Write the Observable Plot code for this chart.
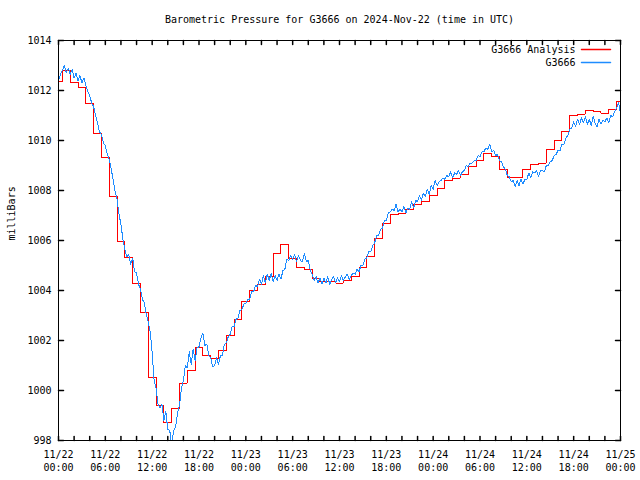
<!DOCTYPE html>
<html><head><meta charset="utf-8">
<script src="https://cdn.jsdelivr.net/npm/d3@7"></script>
<script src="https://cdn.jsdelivr.net/npm/@observablehq/plot@0.6"></script>
<style>body{margin:0;background:#fff}</style>
</head><body><div id="chart"></div>
<script>
const title = "Barometric Pressure for G3666 on 2024-Nov-22 (time in UTC)";
const yLabel = "milliBars";
const seriesNames = ["G3666 Analysis", "G3666"];
const seriesColors = ["#ff0000", "#1e8cff"];
const startTime = "2024-11-22T00:00Z";
const endTime = "2024-11-25T00:00Z";

// hourly analysis values (hour 0 .. 72)
const analysisHourly = [
  1012.37, 1012.80, 1012.34, 1012.13, 1011.48, 1010.29, 1009.34, 1007.76,
  1005.96, 1005.32, 1004.28, 1003.13, 1000.54, 999.41, 998.73, 999.28,
  1000.30, 1000.80, 1001.73, 1001.41, 1001.30, 1001.60, 1002.20, 1002.83,
  1003.57, 1004.00, 1004.24, 1004.56, 1005.50, 1005.84, 1005.28, 1004.93,
  1004.84, 1004.48, 1004.35, 1004.35, 1004.30, 1004.40, 1004.55, 1004.93,
  1005.36, 1006.08, 1006.68, 1007.04, 1007.10, 1007.25, 1007.45, 1007.57,
  1007.79, 1008.09, 1008.40, 1008.50, 1008.64, 1008.97, 1009.22, 1009.47,
  1009.36, 1008.84, 1008.53, 1008.53, 1008.84, 1009.04, 1009.10, 1009.64,
  1010.00, 1010.37, 1011.00, 1011.06, 1011.20, 1011.15, 1011.10, 1011.25,
  1011.55
];

// station observations, every 15 minutes (hour 0 .. 72)
const obsQuarterHourly = [
  1012.40, 1012.65, 1012.80, 1013.00,
  1012.70, 1012.90, 1012.65, 1012.85,
  1012.50, 1012.70, 1012.40, 1012.60,
  1012.30, 1012.50, 1012.20, 1011.95,
  1011.80, 1011.50, 1011.35, 1011.00,
  1010.70, 1010.35, 1010.25, 1009.90,
  1009.80, 1009.45, 1009.25, 1008.85,
  1008.45, 1007.95, 1007.65, 1007.05,
  1006.65, 1006.05, 1005.65, 1005.35,
  1005.45, 1005.05, 1005.30, 1004.75,
  1004.70, 1004.25, 1004.05, 1003.65,
  1003.50, 1003.05, 1002.75, 1002.35,
  1001.50, 1000.40, 1000.10, 999.45,
  999.30, 999.45, 998.80, 999.15,
  998.45, 998.40, 997.85, 998.40,
  998.55, 999.10, 999.40, 1000.10,
  1000.40, 1001.00, 1000.90, 1001.55,
  1001.05, 1001.65, 1001.20, 1001.70,
  1001.75, 1002.10, 1002.30, 1001.80,
  1001.85, 1001.40, 1001.30, 1000.95,
  1001.00, 1001.30, 1001.05, 1001.40,
  1001.40, 1001.85, 1001.90, 1002.15,
  1002.25, 1002.55, 1002.55, 1002.85,
  1002.90, 1003.20, 1003.25, 1003.45,
  1003.50, 1003.65, 1003.65, 1003.95,
  1003.95, 1004.20, 1004.15, 1004.45,
  1004.25, 1004.60, 1004.30, 1004.65,
  1004.40, 1004.70, 1004.35, 1004.60,
  1004.40, 1004.65, 1004.45, 1004.80,
  1004.85, 1005.25, 1005.20, 1005.40,
  1005.25, 1005.45, 1005.15, 1005.40,
  1005.20, 1005.15, 1005.50, 1005.15,
  1005.20, 1004.80, 1004.65, 1004.40,
  1004.55, 1004.30, 1004.50, 1004.25,
  1004.50, 1004.30, 1004.55, 1004.25,
  1004.45, 1004.55, 1004.30, 1004.50,
  1004.35, 1004.60, 1004.40, 1004.55,
  1004.65, 1004.45, 1004.60, 1004.70,
  1004.65, 1004.85, 1004.75, 1005.00,
  1005.00, 1005.25, 1005.30, 1005.55,
  1005.55, 1005.80, 1005.90, 1006.20,
  1006.20, 1006.45, 1006.50, 1006.80,
  1006.80, 1007.10, 1007.15, 1007.25,
  1007.20, 1007.45, 1007.15, 1007.25,
  1007.15, 1007.35, 1007.10, 1007.30,
  1007.25, 1007.55, 1007.30, 1007.60,
  1007.55, 1007.80, 1007.60, 1007.90,
  1007.75, 1008.05, 1007.85, 1008.20,
  1008.05, 1008.40, 1008.20, 1008.35,
  1008.40, 1008.50, 1008.45, 1008.60,
  1008.55, 1008.75, 1008.50, 1008.70,
  1008.65, 1008.80, 1008.60, 1008.75,
  1008.80, 1009.00, 1008.95, 1009.10,
  1009.10, 1009.20, 1009.20, 1009.40,
  1009.35, 1009.55, 1009.55, 1009.70,
  1009.65, 1009.85, 1009.55, 1009.60,
  1009.40, 1009.45, 1009.20, 1009.15,
  1008.95, 1008.85, 1008.60, 1008.55,
  1008.35, 1008.40, 1008.15, 1008.40,
  1008.20, 1008.45, 1008.25, 1008.45,
  1008.45, 1008.70, 1008.50, 1008.75,
  1008.70, 1008.80, 1008.55, 1008.80,
  1008.80, 1008.75, 1009.00, 1009.00,
  1009.15, 1009.20, 1009.40, 1009.45,
  1009.60, 1009.60, 1009.85, 1009.85,
  1010.10, 1010.20, 1010.45, 1010.50,
  1010.75, 1010.55, 1010.85, 1010.65,
  1010.90, 1010.70, 1010.95, 1010.65,
  1010.85, 1010.60, 1010.95, 1010.70,
  1010.55, 1010.85, 1010.65, 1010.80,
  1010.75, 1010.90, 1010.70, 1011.00,
  1010.95, 1011.15, 1011.30, 1011.50,
  1011.10
];

const yTicks = [998, 1000, 1002, 1004, 1006, 1008, 1010, 1012, 1014];
const xTickLabels = [
  "11/22\n00:00", "11/22\n06:00", "11/22\n12:00", "11/22\n18:00",
  "11/23\n00:00", "11/23\n06:00", "11/23\n12:00", "11/23\n18:00",
  "11/24\n00:00", "11/24\n06:00", "11/24\n12:00", "11/24\n18:00",
  "11/25\n00:00"
];

const HOUR = 3600e3;
const t0 = new Date(startTime);
const t1 = new Date(endTime);
const analysis = analysisHourly.map((v, i) => ({t: new Date(+t0 + i * HOUR), v}));
const obs = obsQuarterHourly.map((v, i) => ({t: new Date(+t0 + i * HOUR / 4), v}));
const labelTicks = xTickLabels.map((label, i) => ({t: new Date(+t0 + i * 6 * HOUR), label}));
const minorTicks = d3.utcHour.every(2).range(t0, new Date(+t1 + 1));

const tickShape = {draw(ctx, l) { ctx.moveTo(0, 0); ctx.lineTo(0, -l); }};
const TLX = 4, TLY = 5;

const chart = Plot.plot({
  width: 640,
  height: 480,
  marginTop: 40,
  marginBottom: 40,
  marginLeft: 58,
  marginRight: 20,
  style: {fontFamily: "'DejaVu Sans Mono', monospace", fontSize: "10px", background: "#fff", color: "#000"},
  x: {type: "utc", domain: [t0, t1]},
  y: {domain: [998, 1014]},
  marks: [
    Plot.axisY({ticks: yTicks, tickSize: 0, tickPadding: 7, label: null, tickFormat: d => String(d)}),
    Plot.axisX({ticks: [], label: null}),
    Plot.text(labelTicks, {x: "t", text: "label", frameAnchor: "bottom", dy: 8, lineAnchor: "top", lineHeight: 1.3}),
    Plot.text([yLabel], {frameAnchor: "left", dx: -47, rotate: -90}),
    Plot.text([title], {frameAnchor: "top", dy: -21, lineAnchor: "middle"}),
    Plot.line(analysis, {x: "t", y: "v", curve: "step", stroke: seriesColors[0], strokeWidth: 1, clip: true, shapeRendering: "crispEdges"}),
    Plot.line(obs, {x: "t", y: "v", stroke: seriesColors[1], strokeWidth: 1, clip: true, shapeRendering: "crispEdges"}),
    Plot.vector(minorTicks, {x: d => d, frameAnchor: "bottom", rotate: 0, length: TLX, anchor: "start", shape: tickShape, stroke: "black"}),
    Plot.vector(minorTicks, {x: d => d, frameAnchor: "top", rotate: 180, length: TLX, anchor: "start", shape: tickShape, stroke: "black"}),
    Plot.vector(yTicks, {y: d => d, frameAnchor: "left", rotate: 90, length: TLY, anchor: "start", shape: tickShape, stroke: "black"}),
    Plot.vector(yTicks, {y: d => d, frameAnchor: "right", rotate: -90, length: TLY, anchor: "start", shape: tickShape, stroke: "black"}),
    Plot.text([seriesNames[0]], {frameAnchor: "top-right", dx: -45, dy: 9, textAnchor: "end", lineAnchor: "middle"}),
    Plot.text([seriesNames[1]], {frameAnchor: "top-right", dx: -45, dy: 22, textAnchor: "end", lineAnchor: "middle"}),
    Plot.vector([0], {frameAnchor: "top-right", dx: -10, dy: 9, rotate: 90, length: 29, anchor: "end", shape: tickShape, stroke: seriesColors[0]}),
    Plot.vector([0], {frameAnchor: "top-right", dx: -10, dy: 22, rotate: 90, length: 29, anchor: "end", shape: tickShape, stroke: seriesColors[1]}),
    Plot.frame({stroke: "black"})
  ]
});
document.getElementById("chart").append(chart);
</script>
</body></html>
